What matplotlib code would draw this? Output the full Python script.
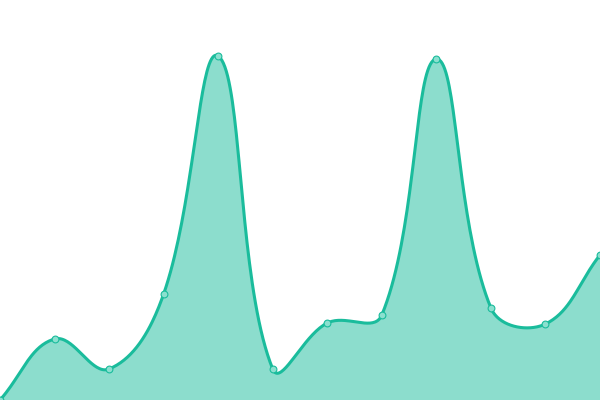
import matplotlib
matplotlib.use("Agg")
import matplotlib.pyplot as plt
import numpy as np

# one value per category (0 = bottom edge)
labels = ["1", "2", "3", "4", "5", "6", "7", "8", "9", "10", "11", "12"]
values = [0, 61, 31, 106, 344, 31, 77, 85, 341, 92, 76, 145]

LINE = "#1abc9c"
FILL = (26 / 255, 188 / 255, 156 / 255, 0.5)
TENSION = 0.4


def spline(ax, xs, ys, tension=TENSION, steps=40):
    """Chart.js style spline, control points worked out in pixel space."""
    pts = ax.transData.transform(np.column_stack([xs, ys]))
    n = len(pts)
    cp_prev = pts.copy()
    cp_next = pts.copy()
    for i in range(n):
        prev = pts[i - 1] if i > 0 else pts[i]
        nxt = pts[i + 1] if i < n - 1 else pts[i]
        d01 = np.hypot(*(pts[i] - prev))
        d12 = np.hypot(*(nxt - pts[i]))
        tot = d01 + d12
        s01 = d01 / tot if tot else 0
        s12 = d12 / tot if tot else 0
        cp_prev[i] = pts[i] - tension * s01 * (nxt - prev)
        cp_next[i] = pts[i] + tension * s12 * (nxt - prev)
    t = np.linspace(0, 1, steps)[:, None]
    out = [pts[:1]]
    for i in range(n - 1):
        p0, p1, p2, p3 = pts[i], cp_next[i], cp_prev[i + 1], pts[i + 1]
        seg = ((1 - t) ** 3) * p0 + 3 * ((1 - t) ** 2) * t * p1 \
            + 3 * (1 - t) * t ** 2 * p2 + t ** 3 * p3
        out.append(seg[1:])
    curve = np.vstack(out)
    return ax.transData.inverted().transform(curve)


fig = plt.figure(figsize=(6, 4), dpi=100)
ax = fig.add_axes([0, 0, 1, 1])
x = np.arange(len(values))
ax.set_xlim(0, len(values) - 1)
ax.set_ylim(0, 400)
ax.axis("off")

curve = spline(ax, x, values)
ax.fill_between(curve[:, 0], curve[:, 1], 0, color=FILL, linewidth=0, zorder=1)
ax.plot(curve[:, 0], curve[:, 1], color=LINE, linewidth=2.2,
        solid_capstyle="round", zorder=2)
ax.scatter(x, values, s=24, facecolor="#8be0cf", edgecolor=LINE,
           linewidths=0.8, zorder=3)

fig.savefig("out.png", dpi=100)
